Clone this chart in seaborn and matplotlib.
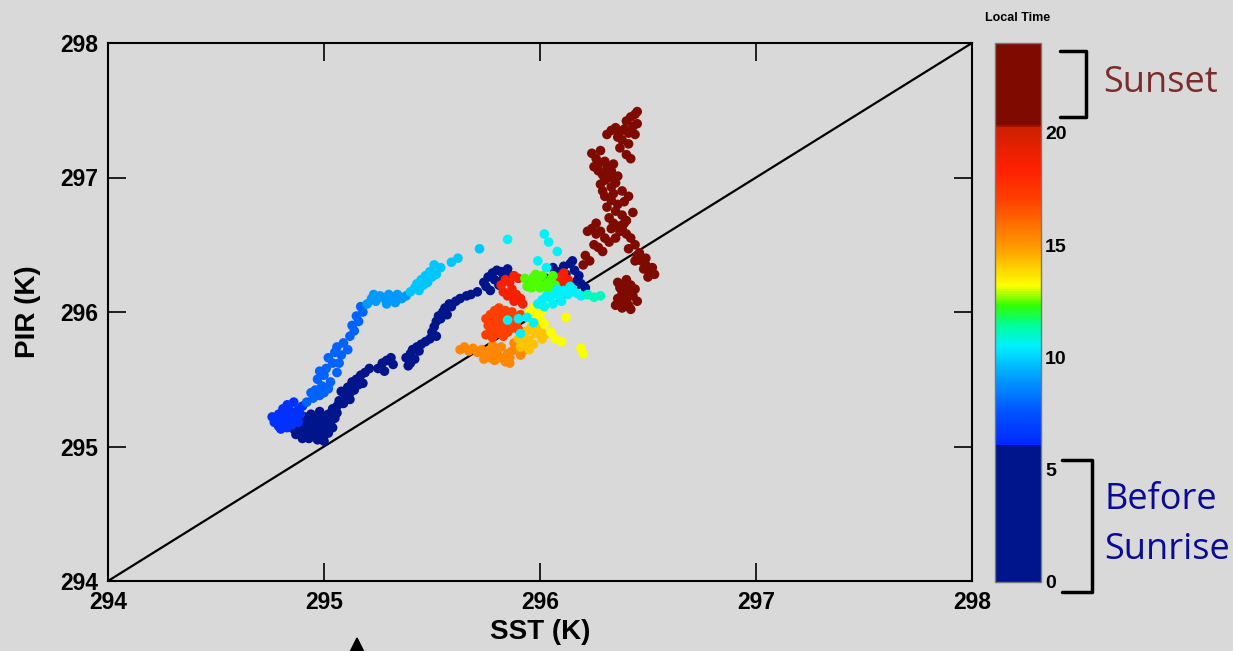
import numpy as np
import pandas as pd
import matplotlib
matplotlib.use("Agg")
import matplotlib.pyplot as plt
import seaborn as sns
from matplotlib.colors import LinearSegmentedColormap, Normalize
from matplotlib.lines import Line2D
from matplotlib.patches import Polygon
import matplotlib.cm as cm

# ---------------- data ----------------
# Before sunrise (local time 0-5), dark blue track
night_time = 3.0
night_sst = [296.08, 296.11, 296.14, 296.12, 296.16, 296.18, 296.09, 296.13, 296.17, 296.06, 296.15, 296.19, 296.21, 296.03,
             295.74, 295.76, 295.78, 295.80, 295.82, 295.84, 295.86, 295.79, 295.83, 295.75, 295.77, 295.81, 295.85,
             295.71, 295.68, 295.66, 295.63, 295.61, 295.58, 295.56, 295.55, 295.57, 295.59,
             295.53, 295.52, 295.51, 295.50, 295.52, 295.54, 295.49,
             295.47, 295.45, 295.43, 295.41, 295.40, 295.38, 295.42, 295.40, 295.39, 295.44,
             295.31, 295.29, 295.27, 295.32, 295.25, 295.28,
             295.21, 295.19, 295.17, 295.15, 295.16, 295.13, 295.11, 295.12, 295.10, 295.08, 295.14, 295.07, 295.06, 295.09, 295.18, 295.04, 295.12,
             294.86, 294.88, 294.90, 294.92, 294.94, 294.96, 294.98, 295.00, 295.02, 294.89, 294.91, 294.93, 294.95, 294.97, 294.99,
             295.01, 295.03, 294.95, 294.97, 294.99, 295.01, 295.02, 294.93, 294.97, 295.00, 294.87, 295.04, 295.03, 294.98, 294.94,
             294.90, 294.92, 294.96, 295.00, 294.94, 295.04, 295.05, 295.06, 294.98, 294.91]
night_pir = [296.30, 296.34, 296.36, 296.28, 296.31, 296.27, 296.25, 296.22, 296.23, 296.33, 296.38, 296.21, 296.18, 296.25,
             296.22, 296.26, 296.29, 296.31, 296.30, 296.28, 296.27, 296.24, 296.25, 296.19, 296.16, 296.20, 296.32,
             296.15, 296.13, 296.12, 296.10, 296.08, 296.06, 296.03, 296.00, 295.98, 296.04,
             295.97, 295.93, 295.89, 295.85, 295.82, 295.95, 295.80,
             295.78, 295.76, 295.74, 295.72, 295.69, 295.66, 295.65, 295.62, 295.60, 295.71,
             295.66, 295.64, 295.62, 295.61, 295.58, 295.56,
             295.58, 295.55, 295.53, 295.50, 295.46, 295.48, 295.44, 295.40, 295.37, 295.41, 295.42, 295.34, 295.30, 295.32, 295.47, 295.28, 295.35,
             295.13, 295.10, 295.12, 295.09, 295.11, 295.08, 295.06, 295.08, 295.10, 295.16, 295.18, 295.14, 295.16, 295.13, 295.15,
             295.13, 295.17, 295.21, 295.19, 295.22, 295.20, 295.24, 295.06, 295.05, 295.04, 295.09, 295.25, 295.21, 295.26, 295.24,
             295.06, 295.14, 295.12, 295.17, 295.19, 295.14, 295.21, 295.25, 295.10, 295.22]

# Early morning (~6), bright blue
dawn_time = 6.4
dawn_sst = [294.77, 294.79, 294.81, 294.83, 294.78, 294.80, 294.82, 294.84, 294.85, 294.87, 294.86, 294.88, 294.84, 294.82, 294.90, 294.79,
            294.76, 294.81, 294.85, 294.88, 294.80, 294.83, 294.86, 294.89]
dawn_pir = [295.18, 295.15, 295.17, 295.14, 295.21, 295.20, 295.22, 295.19, 295.16, 295.21, 295.25, 295.27, 295.27, 295.25, 295.30, 295.24,
            295.22, 295.28, 295.23, 295.18, 295.13, 295.31, 295.33, 295.24]

# Morning (~7-8)
morning_time = 7.9
morning_sst = [294.92, 294.95, 294.98, 294.96, 294.99, 295.02, 294.97, 295.00, 295.03, 295.01, 294.98, 295.04, 295.06, 295.02, 295.05,
               295.08, 295.06, 295.09, 295.11, 295.12, 295.14, 295.13, 295.16, 295.15, 295.18, 295.17, 294.94, 295.00, 295.07]
morning_pir = [295.33, 295.36, 295.38, 295.42, 295.45, 295.43, 295.50, 295.53, 295.48, 295.58, 295.56, 295.62, 295.55, 295.66, 295.70,
               295.68, 295.74, 295.77, 295.72, 295.82, 295.86, 295.90, 295.93, 295.97, 296.00, 296.04, 295.40, 295.40, 295.62]

# Mid-morning (~9)
midmorning_time = 9.0
midmorning_sst = [295.20, 295.22, 295.24, 295.26, 295.28, 295.30, 295.32, 295.34, 295.36, 295.38, 295.29, 295.33, 295.23]
midmorning_pir = [296.06, 296.10, 296.08, 296.12, 296.10, 296.13, 296.11, 296.13, 296.10, 296.12, 296.06, 296.07, 296.13]

# Late morning (~9.8)
late_morning_time = 9.8
late_morning_sst = [295.40, 295.42, 295.44, 295.46, 295.45, 295.48, 295.50, 295.49, 295.52, 295.54, 295.51, 295.47, 295.43, 295.59, 295.62, 295.72]
late_morning_pir = [296.15, 296.18, 296.16, 296.20, 296.24, 296.22, 296.26, 296.30, 296.28, 296.33, 296.35, 296.27, 296.21, 296.37, 296.40, 296.47]

# Around 10.5, scattered cyan
cyan_time = 10.5
cyan_sst = [295.85, 296.02, 296.04, 296.08, 295.99, 296.03, 295.85, 295.90, 295.94, 295.97, 295.91,
            295.99, 296.01, 296.03, 296.05, 296.07, 296.09, 296.11, 296.13, 296.15, 296.17, 296.06, 296.10, 296.02, 296.14, 296.19, 296.08]
cyan_pir = [296.54, 296.58, 296.52, 296.45, 296.38, 296.33, 295.94, 295.95, 295.96, 295.92, 295.84,
            296.06, 296.09, 296.12, 296.10, 296.14, 296.12, 296.16, 296.13, 296.17, 296.14, 296.06, 296.08, 296.04, 296.19, 296.12, 296.17]

# ~11
aqua_time = 11.1
aqua_sst = [296.22, 296.25, 296.28]
aqua_pir = [296.13, 296.11, 296.12]

# Noon (~12.4), green
noon_time = 12.4
noon_sst = [295.93, 295.95, 295.97, 295.99, 296.01, 296.03, 296.05, 296.07, 295.96, 296.00, 296.04, 295.98, 296.06, 295.94]
noon_pir = [296.25, 296.22, 296.26, 296.23, 296.27, 296.21, 296.24, 296.20, 296.18, 296.18, 296.16, 296.28, 296.27, 296.19]

# Early afternoon (~13.2), yellow
yellow_time = 13.2
yellow_sst = [295.95, 295.97, 295.99, 296.01, 295.96, 296.00, 296.03, 296.02, 296.05, 296.07, 296.10, 296.12, 296.19, 296.20]
yellow_pir = [296.00, 296.03, 295.97, 296.01, 295.94, 295.95, 296.05, 295.91, 295.85, 295.80, 295.78, 295.96, 295.73, 295.69]

# ~14.2, yellow-orange
amber_time = 14.2
amber_sst = [295.90, 295.92, 295.94, 295.96, 295.98, 296.00, 295.95, 295.97, 296.01, 295.93, 295.99, 296.02, 295.91, 295.95]
amber_pir = [295.80, 295.83, 295.86, 295.89, 295.84, 295.87, 295.79, 295.76, 295.80, 295.76, 295.92, 295.83, 295.74, 295.72]

# ~15.3, orange
orange_time = 15.3
orange_sst = [295.63, 295.65, 295.67, 295.69, 295.71, 295.73, 295.75, 295.77, 295.79, 295.81, 295.83, 295.85, 295.87, 295.89,
              295.76, 295.80, 295.84, 295.86, 295.91, 295.93, 295.88, 295.82, 295.78, 295.74, 295.80, 295.86]
orange_pir = [295.72, 295.74, 295.71, 295.73, 295.70, 295.72, 295.68, 295.66, 295.64, 295.67, 295.65, 295.69, 295.71, 295.74,
              295.71, 295.70, 295.63, 295.66, 295.68, 295.72, 295.77, 295.74, 295.75, 295.65, 295.73, 295.62]

# ~17, red-orange
redorange_time = 17.0
redorange_sst = [295.75, 295.77, 295.79, 295.81, 295.76, 295.78, 295.80, 295.82, 295.84, 295.77, 295.79, 295.81, 295.83, 295.85,
                 295.87, 295.80, 295.82, 295.84, 295.86, 295.88, 295.83, 295.85, 295.87, 295.89, 295.91, 295.78, 295.75, 295.90]
redorange_pir = [295.95, 295.98, 296.01, 296.03, 295.90, 295.93, 295.96, 295.99, 296.01, 295.86, 295.89, 295.92, 295.95, 295.97,
                 296.00, 295.84, 295.87, 295.90, 295.93, 295.96, 295.82, 295.85, 295.88, 295.91, 295.98, 295.81, 295.83, 295.87]

# ~18.8, red
red_time = 18.8
red_sst = [295.82, 295.84, 295.86, 295.88, 295.90, 295.87, 295.89, 295.91, 295.85, 295.92, 295.83, 295.88, 296.09, 296.11, 296.13, 296.10]
red_pir = [296.20, 296.24, 296.22, 296.27, 296.25, 296.17, 296.13, 296.10, 296.12, 296.06, 296.15, 296.08, 296.26, 296.29, 296.24, 296.21]

# Sunset (20-24), dark red
sunset_time = 22.0
sunset_sst = [296.40, 296.42, 296.44, 296.45, 296.43, 296.45, 296.41, 296.44,
              296.31, 296.33, 296.35, 296.37, 296.39, 296.36,
              296.24, 296.26, 296.28, 296.25, 296.27, 296.29, 296.31, 296.30, 296.32, 296.28, 296.33, 296.35, 296.36, 296.34, 296.40, 296.42, 296.38,
              296.30, 296.33, 296.36, 296.39, 296.41, 296.35, 296.38, 296.32, 296.40, 296.43, 296.37,
              296.24, 296.26, 296.28, 296.30, 296.25, 296.27, 296.32, 296.29,
              296.38, 296.40, 296.42, 296.44, 296.41, 296.39,
              296.21, 296.23, 296.20,
              296.45, 296.47, 296.49, 296.51, 296.53, 296.50, 296.48, 296.52,
              296.40, 296.42, 296.44, 296.38, 296.36, 296.40, 296.43, 296.35, 296.38, 296.41, 296.45, 296.37,
              296.27, 296.30, 296.33, 296.29, 296.34, 296.31, 296.34, 296.37, 296.35, 296.33, 296.46, 296.44,
              296.49, 296.39, 296.41, 296.36, 296.39, 296.42, 296.37, 296.41, 296.38, 296.22, 296.26]
sunset_pir = [297.42, 297.45, 297.47, 297.49, 297.38, 297.40, 297.33, 297.32,
              297.32, 297.35, 297.37, 297.34, 297.36, 297.30,
              297.18, 297.14, 297.20, 297.08, 297.05, 297.02, 297.07, 296.98, 297.00, 296.95, 296.93, 296.96, 297.01, 297.10, 297.17, 297.14, 296.90,
              296.86, 296.83, 296.80, 296.82, 296.86, 296.75, 296.72, 296.70, 296.68, 296.74, 296.64,
              296.62, 296.58, 296.60, 296.55, 296.50, 296.48, 296.52, 296.45,
              296.62, 296.58, 296.55, 296.50, 296.47, 296.66,
              296.42, 296.38, 296.35,
              296.42, 296.38, 296.35, 296.31, 296.28, 296.26, 296.32, 296.33,
              296.24, 296.20, 296.17, 296.14, 296.10, 296.09, 296.12, 296.05, 296.03, 296.05, 296.08, 296.18,
              297.10, 297.12, 297.05, 296.90, 296.88, 296.78, 296.66, 296.60, 296.55, 296.62, 296.44, 296.38,
              296.40, 296.20, 296.15, 296.22, 296.07, 296.02, 297.22, 297.25, 297.28, 296.60, 296.66]

axis_ticks = [294, 295, 296, 297, 298]
cbar_ticks = [0, 5, 10, 15, 20]

# ---------------- assemble ----------------
groups = [
    (night_time, night_sst, night_pir),
    (dawn_time, dawn_sst, dawn_pir),
    (morning_time, morning_sst, morning_pir),
    (midmorning_time, midmorning_sst, midmorning_pir),
    (late_morning_time, late_morning_sst, late_morning_pir),
    (orange_time, orange_sst, orange_pir),
    (redorange_time, redorange_sst, redorange_pir),
    (red_time, red_sst, red_pir),
    (amber_time, amber_sst, amber_pir),
    (yellow_time, yellow_sst, yellow_pir),
    (noon_time, noon_sst, noon_pir),
    (cyan_time, cyan_sst, cyan_pir),
    (aqua_time, aqua_sst, aqua_pir),
    (sunset_time, sunset_sst, sunset_pir),
]
rows = []
for t, xs, ys in groups:
    for x, y in zip(xs, ys):
        rows.append((x, y, t))
df = pd.DataFrame(rows, columns=["SST", "PIR", "time"])

# colormap resembling the clipped jet colorbar
anchors = [(0, '#00148c'), (6.05, '#00148c'), (6.1, '#0028ff'), (7.5, '#0050ff'), (9.0, '#0098ff'),
           (10.5, '#00f0ff'), (11.5, '#00ff90'), (12.3, '#30ff00'), (13.2, '#ffff00'), (14.8, '#ffa000'),
           (17.0, '#ff4000'), (18.4, '#ff2000'), (20.3, '#cc2000'), (20.35, '#7f0a00'), (24, '#7f0a00')]
cmap = LinearSegmentedColormap.from_list("localtime", [(v / 24.0, c) for v, c in anchors])
norm = Normalize(0, 24)

# ---------------- figure ----------------
sns.set_theme(style="ticks")
bg = '#d9d9d9'
plt.rcParams['font.family'] = ['Liberation Sans', 'DejaVu Sans']
for k in ['text.color', 'axes.labelcolor', 'xtick.color', 'ytick.color']:
    plt.rcParams[k] = 'black'

W, H = 1233, 651
fig = plt.figure(figsize=(W / 100, H / 100), dpi=100, facecolor=bg)
ax = fig.add_axes([108 / W, 1 - 581 / H, (972 - 108) / W, (581 - 43) / H])
ax.set_facecolor(bg)

ax.plot([294, 298], [294, 298], color='black', lw=1.6, zorder=1)
sns.scatterplot(data=df, x="SST", y="PIR", hue="time", palette=cmap, hue_norm=norm,
                s=48, linewidth=0, legend=False, ax=ax, zorder=2)

ax.set_xlim(294, 298)
ax.set_ylim(294, 298)
ax.set_xticks(axis_ticks)
ax.set_yticks(axis_ticks)
ax.set_xticklabels([str(v) for v in axis_ticks])
ax.set_yticklabels([str(v) for v in axis_ticks])
ax.tick_params(direction='in', length=13, width=1.2, top=True, right=True, labelsize=16.5, pad=7,
               color='black', labelcolor='black')
for lab in ax.get_xticklabels() + ax.get_yticklabels():
    lab.set_fontweight('bold')
for sp in ax.spines.values():
    sp.set_color('black')
    sp.set_linewidth(1.5)
ax.set_xlabel("SST (K)", fontsize=20, fontweight='bold', labelpad=4, color='black')
ax.set_ylabel("PIR (K)", fontsize=20, fontweight='bold', labelpad=14, color='black')

# colorbar
cax = fig.add_axes([995 / W, 1 - 582 / H, 46 / W, (582 - 43) / H])
sm = cm.ScalarMappable(norm=norm, cmap=cmap)
cb = fig.colorbar(sm, cax=cax, ticks=cbar_ticks)
cb.outline.set_edgecolor('#777777')
cb.outline.set_linewidth(1.0)
cax.tick_params(direction='in', length=4, width=0.8, color='#555555', labelsize=14, pad=3,
                left=True, right=True, labelcolor='black')
for lab in cax.get_yticklabels():
    lab.set_fontweight('bold')
fig.text(1018 / W, 1 - 18 / H, "Local Time", ha='center', va='center', fontsize=9, fontweight='bold', color='black')

# annotations: brackets and labels
def bracket(x0, x1, y0, y1):
    xs = [x0 / W, x1 / W, x1 / W, x0 / W]
    ys = [1 - y0 / H, 1 - y0 / H, 1 - y1 / H, 1 - y1 / H]
    fig.add_artist(Line2D(xs, ys, transform=fig.transFigure, color='black', lw=2.5,
                          solid_joinstyle='round', solid_capstyle='round'))

bracket(1060, 1086, 51, 117)
bracket(1062, 1092, 460, 592)
fig.text(1103 / W, 1 - 83 / H, "Sunset", ha='left', va='center', fontsize=26, color='#7b2c2c', family='Open Sans')
fig.text(1104 / W, 1 - 500 / H, "Before", ha='left', va='center', fontsize=26, color='#0a0a96', family='Open Sans')
fig.text(1104 / W, 1 - 550 / H, "Sunrise", ha='left', va='center', fontsize=26, color='#0a0a96', family='Open Sans')

# small arrow head at the bottom (cut by the figure edge)
fig.add_artist(Polygon([[343 / W, 1 - 666 / H], [371 / W, 1 - 666 / H], [357 / W, 1 - 638 / H]],
                       closed=True, transform=fig.transFigure, color='black'))

fig.savefig("out.png", dpi=100, facecolor=bg)
